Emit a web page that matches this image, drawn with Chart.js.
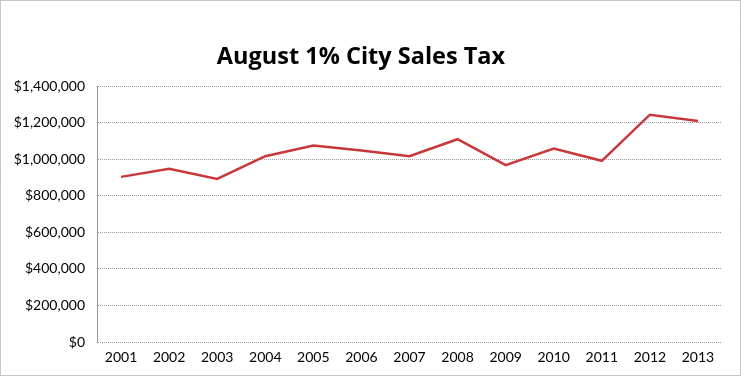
<!DOCTYPE html>
<html>
<head>
<meta charset="utf-8">
<script src="https://cdn.jsdelivr.net/npm/chart.js@4"></script>
<style>
html,body{margin:0;padding:0;background:#fff;}
#wrap{width:741px;height:376px;position:relative;}
</style>
</head>
<body>
<div id="wrap"><canvas id="c" width="741" height="376"></canvas></div>
<script>
const years = ["2001","2002","2003","2004","2005","2006","2007","2008","2009","2010","2011","2012","2013"];
const salesTax = [903000, 947000, 892000, 1016000, 1075000, 1047000, 1016000, 1109000, 967000, 1058000, 991000, 1243000, 1209000];
const chartTitle = "August 1% City Sales Tax";

const frame = {
  id: 'frame',
  afterDraw(chart) {
    const ctx = chart.ctx;
    ctx.save();
    ctx.strokeStyle = '#8c8c8c';
    ctx.lineWidth = 1;
    ctx.setLineDash([1,1]);
    ctx.strokeRect(0.5, 0.5, chart.width - 1, chart.height - 1);
    ctx.restore();
  }
};

new Chart(document.getElementById('c'), {
  type: 'line',
  data: {
    labels: years,
    datasets: [{
      data: salesTax,
      borderColor: '#C8373A',
      borderWidth: 2.5,
      pointRadius: 0,
      tension: 0,
      fill: false
    }]
  },
  options: {
    responsive: false,
    animation: false,
    layout: { padding: { left: 0, right: 19, top: 0, bottom: 0 } },
    plugins: {
      legend: { display: false },
      tooltip: { enabled: false },
      title: {
        display: true,
        text: chartTitle,
        color: '#000',
        font: { family: '"Open Sans", Lato, sans-serif', size: 23.5, weight: 'bold', lineHeight: 1.2 },
        padding: { top: 43, bottom: 14.8 }
      }
    },
    scales: {
      x: {
        offset: true,
        grid: { display: false, drawTicks: false },
        border: { display: false },
        ticks: { color: '#000', font: { family: 'Lato, sans-serif', size: 14 }, padding: 7, maxRotation: 0 },
        afterFit(s) { s.height = 34; }
      },
      y: {
        min: 0, max: 1400000,
        ticks: {
          stepSize: 200000,
          color: '#000',
          padding: 12,
          font: { family: 'Lato, sans-serif', size: 14 },
          callback: v => '$' + v.toLocaleString('en-US')
        },
        grid: { color: '#9a9a9a', lineWidth: 1, drawTicks: false },
        border: { display: true, color: '#9a9a9a', dash: [1,1] },
        afterFit(s) { s.width = 97; }
      }
    }
  },
  plugins: [frame]
});
</script>
</body>
</html>
